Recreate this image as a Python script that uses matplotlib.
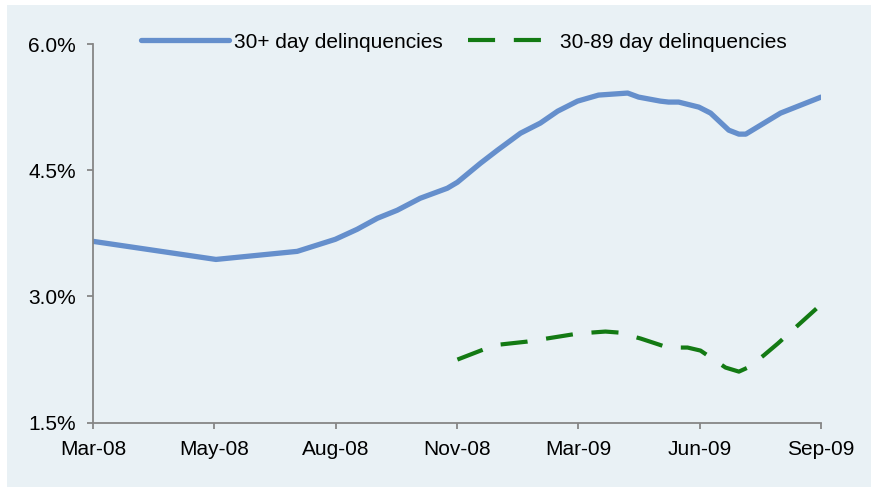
import matplotlib
matplotlib.use("Agg")
import matplotlib.pyplot as plt
from matplotlib.patches import Rectangle

plt.rcParams['font.family'] = ['Liberation Sans', 'DejaVu Sans']

# months since Mar-08
x_30plus = [0, 3.04, 5.05, 5.99, 6.53, 7.03, 7.52, 8.09, 8.76, 9.01, 9.58, 10.0, 10.57,
            11.06, 11.49, 11.98, 12.5, 13.22, 13.49, 14.03, 14.23, 14.48, 14.98, 15.27,
            15.72, 15.97, 16.14, 17.0, 18.0]
y_30plus = [3.655, 3.44, 3.536, 3.679, 3.798, 3.929, 4.024, 4.167, 4.286, 4.357, 4.583,
            4.738, 4.94, 5.06, 5.202, 5.321, 5.393, 5.417, 5.369, 5.321, 5.31, 5.31, 5.25,
            5.179, 4.976, 4.929, 4.929, 5.179, 5.369]

x_30_89 = [9.01, 9.65, 10.07, 10.74, 11.06, 12.0, 12.67, 13.0, 13.54, 13.99, 14.21, 14.7,
           15.02, 15.64, 15.97, 16.19, 16.58, 16.93, 18.0]
y_30_89 = [2.25, 2.369, 2.429, 2.464, 2.488, 2.56, 2.583, 2.571, 2.5, 2.429, 2.393, 2.393,
           2.357, 2.155, 2.107, 2.155, 2.298, 2.44, 2.905]

tick_pos = [0, 3, 6, 9, 12, 15, 18]
tick_labels = ['Mar-08', 'May-08', 'Aug-08', 'Nov-08', 'Mar-09', 'Jun-09', 'Sep-09']
y_ticks = [1.5, 3.0, 4.5, 6.0]

BG = '#E9F1F5'
W, H = 871, 491

fig = plt.figure(figsize=(W / 100, H / 100), dpi=100, facecolor='white')
fig.patches.append(Rectangle((7 / W, 1 - 487 / H), 1 - 7 / W, (487 - 5) / H,
                             transform=fig.transFigure, facecolor=BG, edgecolor='none', zorder=-10))

ax = fig.add_axes([93 / W, 1 - 422.7 / H, (821 - 93) / W, (422.7 - 44) / H])
ax.set_facecolor('none')

ax.plot(x_30plus, y_30plus, color='#658FCC', lw=3.8, solid_capstyle='round',
        solid_joinstyle='round', label='30+ day delinquencies')
ax.plot(x_30_89, y_30_89, color='#137A13', lw=3.0, dashes=(6.5, 4.5),
        label='30-89 day delinquencies')

ax.set_xlim(0, 18)
ax.set_ylim(1.5, 6.0)
ax.set_xticks(tick_pos)
ax.set_xticklabels(tick_labels)
ax.set_yticks(y_ticks)
ax.set_yticklabels(['%.1f%%' % v for v in y_ticks])

for s in ['top', 'right']:
    ax.spines[s].set_visible(False)
for s in ['left', 'bottom']:
    ax.spines[s].set_color('#868686')
    ax.spines[s].set_linewidth(1.3)
ax.tick_params(axis='both', colors='#868686', labelcolor='black', labelsize=15,
               length=4.5, width=1.3, direction='out')
ax.tick_params(axis='y', pad=8)
ax.tick_params(axis='x', pad=8)

ax.legend(loc='center', bbox_to_anchor=(464 / W, 1 - 42 / H), bbox_transform=fig.transFigure,
          ncol=2, frameon=False, fontsize=15, handlelength=4.2, handletextpad=0.25,
          columnspacing=1.2)

fig.savefig('out.png', dpi=100, facecolor='white')
